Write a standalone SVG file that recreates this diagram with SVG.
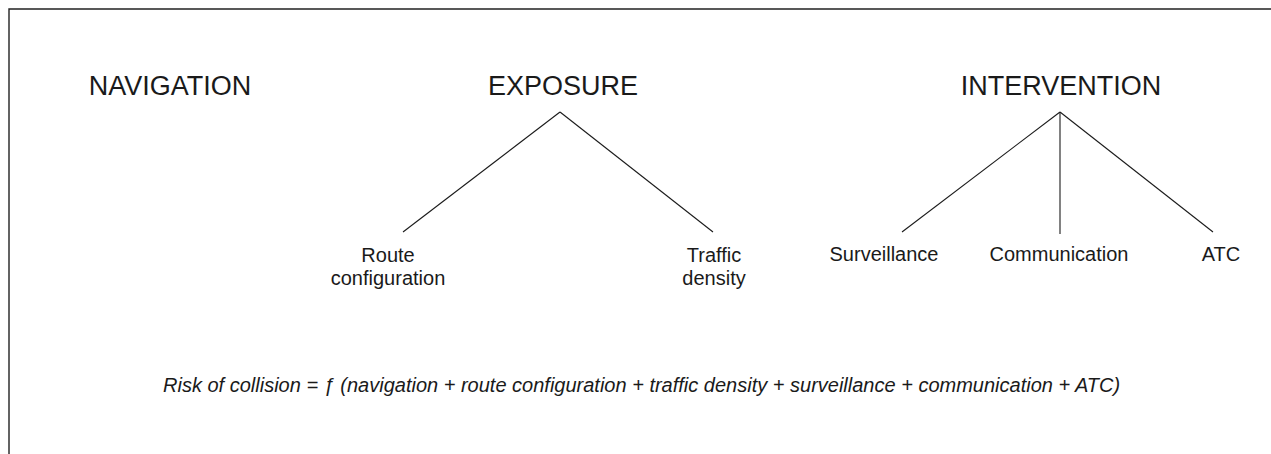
<svg xmlns="http://www.w3.org/2000/svg" width="1271" height="454" viewBox="0 0 1271 454">
<style>
.t{font-family:"Liberation Sans",Arial,sans-serif;fill:#1a1a1a;text-anchor:middle}
.h{font-size:27px}
.l{font-size:20px}
.f{font-size:20px;font-style:italic;text-anchor:start}
.c{stroke:#1a1a1a;stroke-width:1.1;fill:none}
.b{stroke:#222;stroke-width:1.4;fill:none}
</style>
<rect width="1271" height="454" fill="#fff"/>
<path class="b" d="M9,454 V9 H1271"/>
<g id="navigation"><text class="t h" x="170" y="95">NAVIGATION</text></g>
<g id="exposure"><text class="t h" x="563" y="95">EXPOSURE</text></g>
<g id="route-configuration"><text class="t l" x="388" y="262">Route<tspan x="388" dy="23">configuration</tspan></text></g>
<g id="traffic-density"><text class="t l" x="714" y="262">Traffic<tspan x="714" dy="23">density</tspan></text></g>
<g id="intervention"><text class="t h" x="1061" y="95">INTERVENTION</text></g>
<g id="surveillance"><text class="t l" x="884" y="261">Surveillance</text></g>
<g id="communication"><text class="t l" x="1059" y="261">Communication</text></g>
<g id="atc"><text class="t l" x="1221" y="261">ATC</text></g>
<g id="connectors">
<line class="c" x1="560" y1="112" x2="403" y2="232"/>
<line class="c" x1="560" y1="112" x2="713" y2="232"/>
<line class="c" x1="1060" y1="112" x2="902" y2="232"/>
<line class="c" x1="1060" y1="112" x2="1060" y2="234"/>
<line class="c" x1="1060" y1="112" x2="1213" y2="232"/>
</g>
<g id="formula"><text class="t f" x="163" y="392">Risk of collision = ƒ (navigation + route configuration + traffic density + surveillance + communication + ATC)</text></g>
</svg>
